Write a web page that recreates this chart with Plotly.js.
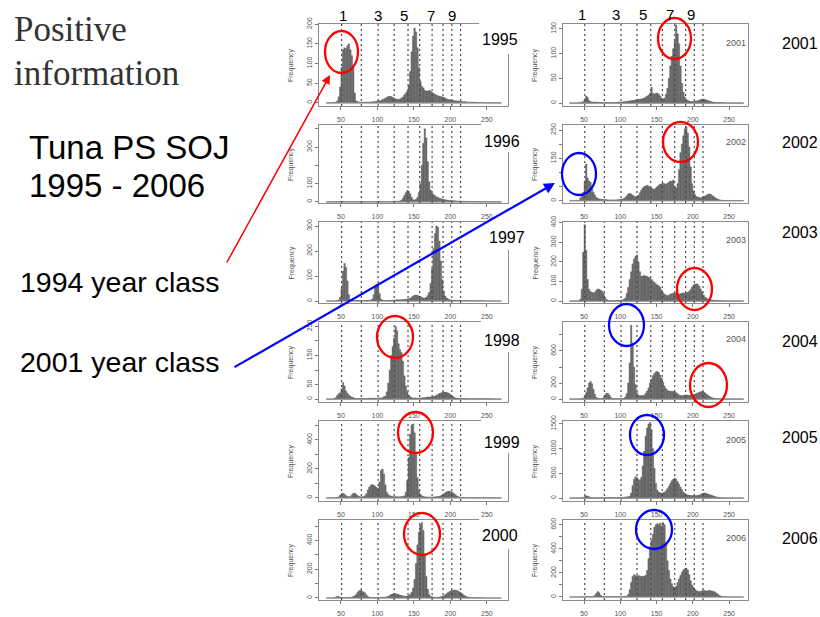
<!DOCTYPE html>
<html><head><meta charset="utf-8">
<script src="https://cdn.plot.ly/plotly-3.0.1.min.js"></script>
<style>html,body{margin:0;padding:0;background:#fff;overflow:hidden}#chart{width:820px;height:617px}</style>
</head><body><div id="chart"></div>
<script>
// ---------- data ----------
const binStart = 30;      // first histogram break (cm)
const binWidth = 2;       // histogram bin width (cm)
const ageLengths = [51, 78, 101, 123, 142, 158, 175, 190, 202, 214]; // dotted age lines
const ageLabels = ['1', '3', '5', '7', '9'];
const xTickVals = [50, 100, 150, 200, 250];
const yearsLeft = ['1995', '1996', '1997', '1998', '1999', '2000'];
const yearsRight = ['2001', '2002', '2003', '2004', '2005', '2006'];

const f1995 = [
0,0,0,0,0,1,2,5,15,40,
90,135,140,138,145,150,135,120,95,25,
5,3,2,2,2,2,2,2,2,2,
2,3,3,3,4,4,5,6,8,10,
12,14,16,17,16,14,12,10,9,9,
10,12,15,20,25,30,45,80,130,170,
190,180,140,90,55,42,38,32,30,30,
32,30,27,24,22,20,18,17,16,15,
14,12,10,9,8,7,6,6,5,5,
5,4,4,3,3,3,2,2,2,2,
2,2,1,1,1,1,1,1,0,0,
0,0,0,0,0,0,0,0,0,0];
const f1996 = [
0,0,0,0,0,0,1,1,2,2,
3,3,2,2,2,1,1,1,1,1,
1,1,1,1,1,1,1,1,1,1,
1,1,1,1,1,1,1,1,1,1,
1,1,2,2,2,3,3,4,4,4,
5,10,20,35,50,62,58,45,25,12,
10,15,25,50,100,200,320,400,350,220,
110,65,48,40,34,28,24,20,18,15,
13,12,10,9,8,8,7,6,6,5,
5,5,4,4,3,3,3,3,2,2,
2,2,2,2,2,2,1,1,1,1,
1,1,1,1,0,0,0,0,0,0];
const f1997 = [
0,0,0,0,0,0,1,2,4,15,
50,120,150,135,80,25,5,3,2,2,
2,2,2,2,2,2,2,3,3,3,
3,8,25,55,68,60,30,8,3,2,
2,2,2,2,3,3,4,4,5,5,
5,5,6,6,7,8,9,11,15,20,
23,24,23,20,18,15,12,12,15,22,
35,70,130,210,270,300,295,240,160,85,
40,20,12,8,5,4,3,3,3,2,
2,2,2,2,2,2,2,1,1,1,
1,1,1,1,1,1,1,1,1,0,
0,0,0,0,0,0,0,0,0,0];
const f1998 = [
0,0,0,0,0,2,5,12,18,22,
35,57,45,28,20,14,10,7,5,3,
2,2,2,2,2,2,2,2,2,3,
3,3,3,3,3,4,4,4,5,8,
10,25,55,100,150,180,210,250,235,190,
170,160,130,80,45,25,14,8,5,4,
4,4,3,3,4,4,5,5,6,7,
7,7,8,9,11,13,16,19,21,23,
24,24,23,21,18,14,10,6,4,3,
3,2,2,2,2,2,2,1,1,1,
1,1,1,1,1,1,1,1,1,1,
1,1,1,1,0,0,0,0,0,0];
const f1999 = [
0,0,0,0,0,0,1,3,8,18,
30,32,26,16,10,8,10,22,32,33,
25,16,10,8,8,10,15,30,55,75,
88,92,88,80,72,65,110,190,200,165,
90,40,22,16,12,10,9,9,8,8,
8,9,10,15,40,120,280,440,505,510,
450,300,140,55,25,15,10,8,7,7,
6,6,6,7,8,9,10,12,15,20,
28,36,42,46,46,44,38,30,22,14,
9,6,5,4,4,3,3,3,2,2,
2,2,2,2,1,1,1,1,1,1,
1,1,1,0,0,0,0,0,0,0];
const f2000 = [
0,0,0,0,0,2,5,12,10,4,
3,3,3,3,3,3,4,6,10,15,
25,40,50,55,48,42,35,22,10,5,
3,3,3,3,3,3,3,4,5,6,
5,8,12,18,24,28,30,30,27,24,
20,17,14,12,12,14,18,25,40,70,
130,240,370,460,510,525,470,300,150,60,
25,12,8,6,5,5,5,6,8,12,
15,22,30,38,45,50,54,55,55,52,
48,42,35,26,18,12,8,5,3,2,
2,2,1,1,1,1,1,1,0,0,
0,0,0,0,0,0,0,0,0,0];
const f2001 = [
0,0,0,0,0,0,1,1,2,3,
8,14,11,5,3,2,2,2,2,2,
1,1,1,1,1,1,1,1,1,1,
1,1,1,2,2,2,2,3,3,3,
4,4,5,5,6,6,7,7,8,8,
9,10,12,14,16,20,32,20,18,20,
20,18,14,10,8,10,18,30,50,75,
95,110,125,158,140,120,75,40,22,12,
7,5,4,3,3,3,4,4,5,6,
7,8,8,7,6,5,4,3,2,2,
1,1,1,1,1,1,0,0,0,0,
0,0,0,0,0,0,0,0,0,0];
const f2002 = [
0,0,0,0,0,0,0,10,20,30,
70,130,80,70,65,50,30,20,12,8,
6,5,5,4,4,4,3,3,3,3,
3,3,3,4,4,5,6,8,12,18,
24,26,24,20,16,14,15,20,28,38,
45,50,52,55,52,48,45,42,40,45,
50,55,58,60,62,60,58,62,65,70,
68,73,50,45,60,110,170,200,230,255,
262,240,190,120,60,35,22,15,12,12,
10,12,14,17,20,23,24,22,18,14,
10,7,5,3,2,2,1,1,1,1,
1,1,0,0,0,0,0,0,0,0];
const f2003 = [
0,0,0,0,0,0,0,10,60,250,
390,260,110,60,48,45,42,45,55,62,
60,55,50,40,20,8,3,2,2,2,
2,2,3,3,4,5,6,8,15,40,
70,110,150,190,215,228,235,200,150,125,
128,130,128,125,122,118,110,102,95,88,
82,78,70,55,42,35,30,28,30,35,
38,40,42,40,38,36,38,40,42,40,
42,45,50,60,72,82,87,88,85,75,
60,45,30,20,14,10,8,6,5,4,
3,3,2,2,1,1,1,1,0,0,
0,0,0,0,0,0,0,0,0,0];
const f2004 = [
0,0,0,0,0,0,0,2,5,10,
40,80,140,200,220,190,120,60,20,10,
6,5,5,20,50,75,70,50,20,8,
5,4,4,4,4,5,6,10,25,70,
200,450,920,700,400,180,80,50,40,45,
40,50,70,100,140,200,250,290,320,340,
345,330,300,260,210,160,130,110,100,98,
95,95,90,80,65,50,45,42,45,50,
50,48,45,45,50,55,62,70,78,85,
92,95,88,75,60,45,32,22,15,10,
7,5,4,3,2,2,1,1,1,1,
1,1,0,0,0,0,0,0,0,0];
const f2005 = [
0,0,0,0,0,0,0,2,5,10,
30,45,40,25,15,8,5,4,4,4,
4,4,5,6,8,10,10,12,10,8,
8,7,7,8,9,10,12,15,20,25,
25,40,100,250,380,430,420,380,360,420,
650,950,1250,1420,1500,1530,1380,1000,600,300,
160,120,105,100,105,120,150,190,240,300,
350,380,400,380,330,280,220,170,120,90,
70,60,55,50,50,48,48,50,55,60,
75,90,100,100,90,80,70,60,50,40,
30,20,14,10,6,4,2,1,1,0,
0,0,0,0,0,0,0,0,0,0];
const f2006 = [
0,0,0,0,0,0,0,0,1,2,
3,3,3,3,3,3,5,15,30,45,
35,15,5,3,3,3,3,3,3,3,
3,3,3,3,3,3,3,4,5,8,
20,60,120,170,185,180,175,180,175,170,
170,175,180,220,320,420,470,520,580,600,
610,600,615,590,620,600,450,300,220,150,
110,85,78,90,120,150,180,205,225,235,
240,225,185,135,100,80,62,52,47,45,
48,52,55,52,50,52,55,52,48,45,
40,30,20,12,6,3,2,1,1,0,
0,0,0,0,0,0,0,0,0,0];

// y-axis ticks (values and printed labels) per panel
const yTicks1995 = [0,50,100,150,200],        yText1995 = ['0','50','100','150','200'];
const yTicks1996 = [0,100,200,300,400],       yText1996 = ['0','100','','300',''];
const yTicks1997 = [0,100,200,300],           yText1997 = ['0','100','200','300'];
const yTicks1998 = [0,50,100,150,200,250],    yText1998 = ['0','50','','150','','250'];
const yTicks1999 = [0,100,200,300,400,500],   yText1999 = ['0','','200','','400',''];
const yTicks2000 = [0,100,200,300,400,500],   yText2000 = ['0','','200','','400',''];
const yTicks2001 = [0,50,100,150],            yText2001 = ['0','50','100','150'];
const yTicks2002 = [0,50,100,150,200,250],    yText2002 = ['0','','','150','','250'];
const yTicks2003 = [0,100,200,300,400],       yText2003 = ['0','100','200','300','400'];
const yTicks2004 = [0,200,400,600,800],       yText2004 = ['0','200','','600',''];
const yTicks2005 = [0,500,1000,1500],         yText2005 = ['0','500','1000','1500'];
const yTicks2006 = [0,100,200,300,400,500,600], yText2006 = ['0','','200','','400','','600'];

// ---------- layout helpers ----------
const W = 820, H = 617;
const px = v => v / W;
const py = v => 1 - v / H;

const colBox = [[319, 508], [563, 748]];
const colXRange = [[20, 279], [21, 276]];
const rowBox = [[24,106],[125,203],[222,303],[322,402],[421,501],[520,600]];

const panels = [
  {year:'1995', f:f1995, col:0, row:0, yr:[-8,200.5], tv:yTicks1995, tt:yText1995},
  {year:'1996', f:f1996, col:0, row:1, yr:[-6,421],   tv:yTicks1996, tt:yText1996},
  {year:'1997', f:f1997, col:0, row:2, yr:[-8,316],   tv:yTicks1997, tt:yText1997},
  {year:'1998', f:f1998, col:0, row:3, yr:[-10,265],  tv:yTicks1998, tt:yText1998},
  {year:'1999', f:f1999, col:0, row:4, yr:[-21,531],  tv:yTicks1999, tt:yText1999},
  {year:'2000', f:f2000, col:0, row:5, yr:[-14,543],  tv:yTicks2000, tt:yText2000},
  {year:'2001', f:f2001, col:1, row:0, yr:[-6,160],   tv:yTicks2001, tt:yText2001},
  {year:'2002', f:f2002, col:1, row:1, yr:[-8,268],   tv:yTicks2002, tt:yText2002},
  {year:'2003', f:f2003, col:1, row:2, yr:[-10,404],  tv:yTicks2003, tt:yText2003},
  {year:'2004', f:f2004, col:1, row:3, yr:[-37,962],  tv:yTicks2004, tt:yText2004},
  {year:'2005', f:f2005, col:1, row:4, yr:[-60,1560], tv:yTicks2005, tt:yText2005},
  {year:'2006', f:f2006, col:1, row:5, yr:[-25,640],  tv:yTicks2006, tt:yText2006}
];

const traces = [];
const layout = {
  width: W, height: H,
  margin: {l:0, r:0, t:0, b:0},
  paper_bgcolor: '#ffffff', plot_bgcolor: '#ffffff',
  showlegend: false, bargap: 0,
  font: {family: 'Liberation Sans, Arial, sans-serif', color: '#000'},
  shapes: [], annotations: []
};

panels.forEach((p, i) => {
  const k = i + 1;
  const xid = k === 1 ? 'x' : 'x' + k;
  const yid = k === 1 ? 'y' : 'y' + k;
  const xkey = k === 1 ? 'xaxis' : 'xaxis' + k;
  const ykey = k === 1 ? 'yaxis' : 'yaxis' + k;
  const centers = p.f.map((_, j) => binStart + binWidth * (j + 0.5));
  const binEnd = binStart + binWidth * p.f.length;

  traces.push({
    type: 'scatter', mode: 'lines', x: [binStart, binEnd], y: [0, 0],
    xaxis: xid, yaxis: yid, line: {color: '#8a8a8a', width: 1.2}, hoverinfo: 'skip'
  });
  traces.push({
    type: 'bar', x: centers, y: p.f, width: binWidth,
    xaxis: xid, yaxis: yid,
    marker: {color: '#747474', line: {color: '#444444', width: 0.35}}
  });

  const [bx0, bx1] = colBox[p.col];
  const [by0, by1] = rowBox[p.row];
  layout[xkey] = {
    domain: [px(bx0), px(bx1)], range: colXRange[p.col], anchor: yid,
    tickvals: xTickVals, ticks: 'outside', ticklen: 3, tickcolor: '#777',
    ticklabelstandoff: 3,
    showline: true, mirror: true, linecolor: '#8c8c8c', linewidth: 1.3,
    showgrid: false, zeroline: false,
    tickfont: {size: 7, color: '#555'}
  };
  layout[ykey] = {
    domain: [py(by1), py(by0)], range: p.yr, anchor: xid,
    tickvals: p.tv, ticktext: p.tt, tickangle: -90,
    ticks: 'outside', ticklen: 3, tickcolor: '#777',
    showline: true, mirror: true, linecolor: '#8c8c8c', linewidth: 1.3,
    showgrid: false, zeroline: false,
    tickfont: {size: 7, color: '#555'}
  };

  ageLengths.forEach(a => {
    layout.shapes.push({
      type: 'line', xref: xid, yref: yid + ' domain', x0: a, x1: a, y0: 0, y1: 1,
      line: {color: '#4a4a4a', width: 1.2, dash: '2px,3px'}, layer: 'above'
    });
  });

  // Frequency label
  layout.annotations.push({
    xref: 'paper', yref: 'paper', x: px(p.col === 0 ? 291 : 535), y: py((by0 + by1) / 2),
    text: 'Frequency', textangle: -90, showarrow: false,
    font: {size: 7, color: '#555'}, xanchor: 'center', yanchor: 'middle'
  });
});

// white patches behind the left-column year labels
const leftLabelPos = [[500,40,22,54],[502,142,123,152],[507,237,221,250],[502,340,320,352],[502,442,419,453],[500,535,518,549]];
leftLabelPos.forEach((pos, i) => {
  layout.shapes.push({type:'rect', xref:'paper', yref:'paper', x0:px(pos[0]-21), x1:px(pos[0]+22),
    y0:py(pos[3]), y1:py(pos[2]), fillcolor:'#ffffff', line:{width:0}, layer:'above'});
  layout.annotations.push({xref:'paper', yref:'paper', x:px(pos[0]), y:py(pos[1]), text:yearsLeft[i],
    showarrow:false, font:{size:16, color:'#000'}, xanchor:'center', yanchor:'middle'});
});

// right column year labels (outside) and small in-panel legends
const rightLabelY = [43, 143, 232, 342, 437, 538];
const rightSmallY = [43, 142, 240, 339, 440, 538];
yearsRight.forEach((y, i) => {
  layout.annotations.push({xref:'paper', yref:'paper', x:px(800), y:py(rightLabelY[i]), text:y,
    showarrow:false, font:{size:16, color:'#000'}, xanchor:'center', yanchor:'middle'});
  layout.annotations.push({xref:'paper', yref:'paper', x:px(736), y:py(rightSmallY[i]), text:y,
    showarrow:false, font:{size:9, color:'#555'}, xanchor:'center', yanchor:'middle'});
});

// age numbers on top
const ageLabelXLeft = [343, 378, 404, 431, 452];
const ageLabelXRight = [582, 616, 643, 670, 691];
ageLabels.forEach((t, i) => {
  layout.annotations.push({xref:'paper', yref:'paper', x:px(ageLabelXLeft[i]), y:py(15), text:t,
    showarrow:false, font:{size:15, color:'#000'}, xanchor:'center', yanchor:'middle'});
  layout.annotations.push({xref:'paper', yref:'paper', x:px(ageLabelXRight[i]), y:py(14), text:t,
    showarrow:false, font:{size:15, color:'#000'}, xanchor:'center', yanchor:'middle'});
});

// left-hand texts
const leftTexts = [
  {t:'Positive', x:12, y:30, size:35, fam:'Liberation Serif, Times New Roman, serif', c:'#333'},
  {t:'information', x:12, y:73, size:35, fam:'Liberation Serif, Times New Roman, serif', c:'#333'},
  {t:'Tuna PS SOJ', x:27, y:147, size:33, fam:'Liberation Sans, Arial, sans-serif', c:'#000'},
  {t:'1995 - 2006', x:27, y:185, size:33, fam:'Liberation Sans, Arial, sans-serif', c:'#000'},
  {t:'1994 year class', x:18, y:282, size:28.5, fam:'Liberation Sans, Arial, sans-serif', c:'#000'},
  {t:'2001 year class', x:18, y:362, size:28.5, fam:'Liberation Sans, Arial, sans-serif', c:'#000'}
];
leftTexts.forEach(o => layout.annotations.push({xref:'paper', yref:'paper', x:px(o.x), y:py(o.y), text:o.t,
  showarrow:false, font:{size:o.size, family:o.fam, color:o.c}, xanchor:'left', yanchor:'middle'}));

// highlight ellipses [x0, x1, y0, y1, colour]
const ellipses = [
  [325,358,31,73,'#ff0000'], [658,691,18,59,'#ff0000'], [663,698,122,162,'#ff0000'],
  [562,596,153,195,'#0000ff'], [677,712,268,310,'#ff0000'], [609,644,304,346,'#0000ff'],
  [690,727,363,407,'#ff0000'], [377,413,316,358,'#ff0000'], [398,433,412,453,'#ff0000'],
  [404,440,513,555,'#ff0000'], [630,664,415,455,'#0000ff'], [636,672,510,549,'#0000ff']
];
ellipses.forEach(e => layout.shapes.push({type:'circle', xref:'paper', yref:'paper',
  x0:px(e[0]), x1:px(e[1]), y0:py(e[3]), y1:py(e[2]), line:{color:e[4], width:2.3}, layer:'above'}));

// arrows
layout.annotations.push({xref:'paper', yref:'paper', x:px(330), y:py(75), ax:-104, ay:189,
  axref:'pixel', ayref:'pixel', text:'', showarrow:true, arrowhead:2, arrowsize:1.2, arrowwidth:1.5, arrowcolor:'#ff0000'});
layout.annotations.push({xref:'paper', yref:'paper', x:px(555), y:py(183), ax:-322, ay:185,
  axref:'pixel', ayref:'pixel', text:'', showarrow:true, arrowhead:2, arrowsize:1, arrowwidth:2.2, arrowcolor:'#0000ff'});

Plotly.newPlot('chart', traces, layout, {staticPlot:true, displayModeBar:false});
</script></body></html>
